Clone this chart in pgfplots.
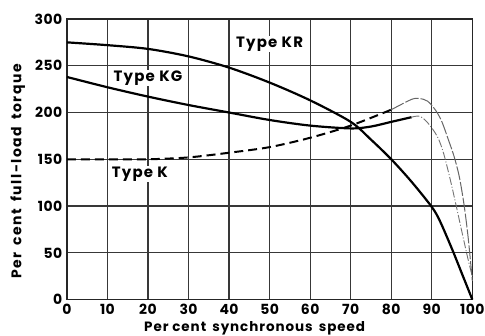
\documentclass[border=0pt]{standalone}
\usepackage{fontspec}
\setmainfont{Poppins}[LetterSpace=6]
\usepackage{pgfplots}
\pgfplotsset{compat=1.18}

\begin{document}
\begin{tikzpicture}
\begin{axis}[
    width=406pt, height=281pt, scale only axis,
    xmin=0, xmax=100, ymin=0, ymax=300,
    xtick={0,10,...,100}, ytick={0,50,...,300},
    xmajorgrids=true, ymajorgrids=true,
    grid style={draw=black!78, line width=1.25pt, solid},
    axis line style={black!85, line width=1.4pt},
    major tick length=0pt,
    tick label style={font=\fontsize{14}{14}\selectfont\bfseries\addfontfeature{LetterSpace=3}, inner sep=0.5pt},
    xticklabel style={yshift=-4pt},
    yticklabel style={xshift=-4pt},
    /pgf/number format/assume math mode=true,
    xlabel={Per cent\, synchronous\, speed},
    ylabel={Per\,\ cent\,\ full-load\,\ torque},
    xlabel style={font=\fontsize{13.5}{13.5}\selectfont\bfseries\addfontfeature{LetterSpace=7},
        at={(axis description cs:0.463,-0.114)}, anchor=base, inner sep=0pt},
    ylabel style={font=\fontsize{14}{14}\selectfont\bfseries\addfontfeature{LetterSpace=11},
        at={(axis description cs:-0.121,0.457)}, anchor=center, inner sep=0pt},
    clip=false
]
% page extent
\path (rel axis cs:-0.165,-0.128) rectangle (rel axis cs:1.0296,1.0676);
% Type KR
\addplot[black, line width=2.2pt, smooth] coordinates {
    (0,275) (10,272) (20,268) (30,260) (40,248) (50,232) (60,213)
    (70,190) (75,171) (80,150) (85,126) (90,99) (92,84) (95,54) (97.5,27) (100,0)
};
% Type KG
\addplot[black, line width=2.2pt, smooth] coordinates {
    (0,238) (10,227) (20,217) (30,208) (40,200) (50,192) (60,186)
    (70,183) (75,185) (80,190) (85,195)
};
\addplot[black!55, line width=0.9pt, smooth, dash pattern=on 8pt off 2pt on 1pt off 2pt] coordinates {
    (85,195) (87,196) (89,189) (91.4,174) (93,155) (95,120) (97.5,71) (99,42) (100,25)
};
% Type K
\addplot[black, line width=2pt, dash pattern=on 9pt off 5pt, smooth] coordinates {
    (0,150) (10,150) (20,150) (30,152) (40,157) (50,163) (60,173)
    (70,186) (80,203)
};
\addplot[black!60, line width=1pt, dash pattern=on 14pt off 2pt, smooth] coordinates {
    (80,203) (85,214) (87,215) (89,212) (91,202) (92.5,190) (94,172)
    (95.5,153) (96.8,131) (98,100) (99,65) (100,20)
};
\node[font=\fontsize{15}{15}\selectfont\bfseries\addfontfeature{LetterSpace=8}, fill=white, inner sep=1pt] at (axis cs:50,273) {Type KR};
\node[font=\fontsize{15}{15}\selectfont\bfseries\addfontfeature{LetterSpace=8}, fill=white, inner sep=1pt] at (axis cs:20,237) {Type KG};
\node[font=\fontsize{15}{15}\selectfont\bfseries\addfontfeature{LetterSpace=8}, fill=white, inner sep=1pt] at (axis cs:18,134) {Type K};
\end{axis}
\end{tikzpicture}
\end{document}
